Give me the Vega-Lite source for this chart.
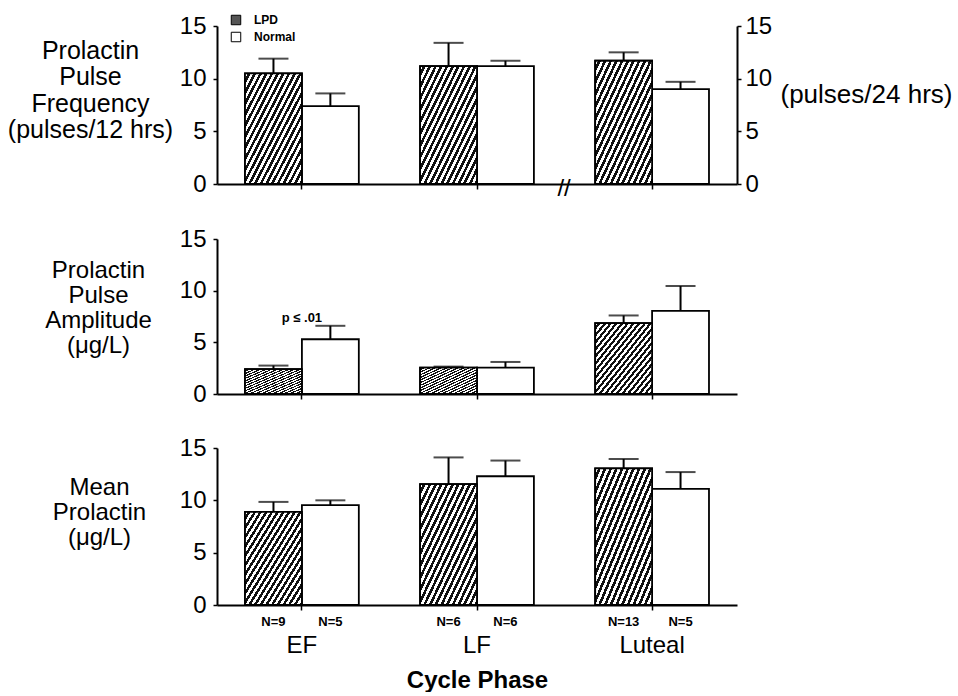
{
  "$schema": "https://vega.github.io/schema/vega-lite/v6.json",
  "padding": {"left": 7, "top": 14, "right": 5, "bottom": 0},
  "background": "white",
  "config": {
    "font": "Liberation Sans",
    "view": {"stroke": null},
    "concat": {"spacing": 26},
    "axis": {"domainColor": "black", "domainWidth": 2, "tickColor": "black", "tickWidth": 1.5, "labelColor": "black", "titleColor": "black", "grid": false, "labelFont": "Liberation Sans", "titleFont": "Liberation Sans"},
    "axisY": {"labelFontSize": 24, "tickSize": 4, "labelPadding": 7, "titleAngle": 0, "titleAlign": "center", "titleBaseline": "top", "titleFontSize": 24, "titleFontWeight": "normal", "titleLineHeight": 26.5},
    "axisX": {"tickSize": 5, "labelAngle": 0, "ticks": true}
  },
  "resolve": {"legend": {"fill": "independent"}, "scale": {"fill": "independent"}},
  "datasets": {
    "bars": [
      {"panel": "freq", "phase": "EF", "group": "LPD", "mean": 10.5, "upper": 11.9, "n": ""},
      {"panel": "freq", "phase": "EF", "group": "Normal", "mean": 7.4, "upper": 8.6, "n": ""},
      {"panel": "freq", "phase": "LF", "group": "LPD", "mean": 11.2, "upper": 13.4, "n": ""},
      {"panel": "freq", "phase": "LF", "group": "Normal", "mean": 11.2, "upper": 11.7, "n": ""},
      {"panel": "freq", "phase": "Luteal", "group": "LPD", "mean": 11.7, "upper": 12.5, "n": ""},
      {"panel": "freq", "phase": "Luteal", "group": "Normal", "mean": 9.0, "upper": 9.7, "n": ""},
      {"panel": "amp", "phase": "EF", "group": "LPD", "mean": 2.4, "upper": 2.75, "n": ""},
      {"panel": "amp", "phase": "EF", "group": "Normal", "mean": 5.3, "upper": 6.6, "n": ""},
      {"panel": "amp", "phase": "LF", "group": "LPD", "mean": 2.55, "upper": 2.65, "n": ""},
      {"panel": "amp", "phase": "LF", "group": "Normal", "mean": 2.55, "upper": 3.1, "n": ""},
      {"panel": "amp", "phase": "Luteal", "group": "LPD", "mean": 6.85, "upper": 7.6, "n": ""},
      {"panel": "amp", "phase": "Luteal", "group": "Normal", "mean": 8.05, "upper": 10.45, "n": ""},
      {"panel": "mean", "phase": "EF", "group": "LPD", "mean": 8.9, "upper": 9.85, "n": "N=9"},
      {"panel": "mean", "phase": "EF", "group": "Normal", "mean": 9.55, "upper": 10.0, "n": "N=5"},
      {"panel": "mean", "phase": "LF", "group": "LPD", "mean": 11.55, "upper": 14.1, "n": "N=6"},
      {"panel": "mean", "phase": "LF", "group": "Normal", "mean": 12.3, "upper": 13.8, "n": "N=6"},
      {"panel": "mean", "phase": "Luteal", "group": "LPD", "mean": 13.05, "upper": 13.95, "n": "N=13"},
      {"panel": "mean", "phase": "Luteal", "group": "Normal", "mean": 11.1, "upper": 12.7, "n": "N=5"}
    ],
    "notes": [
      {"panel": "freq", "phase": "Luteal", "y": 0, "label": "//"},
      {"panel": "amp", "phase": "EF", "y": 7.4, "label": "p ≤ .01"}
    ]
  },
  "vconcat": [
    {
      "width": 520, "height": 158,
      "data": {"name": "bars"},
      "encoding": {
        "x": {"field": "phase", "type": "nominal", "sort": ["EF", "LF", "Luteal"], "scale": {"paddingInner": 0.35, "paddingOuter": 0.16}, "axis": {"title": null, "labels": false, "ticks": true}}
      },
      "layer": [
        {
          "transform": [{"filter": "datum.panel === 'freq'"}],
          "mark": {"type": "bar", "stroke": "black", "strokeWidth": 1.8},
          "encoding": {
            "xOffset": {"field": "group", "type": "nominal", "sort": ["LPD", "Normal"], "scale": {"paddingInner": 0, "paddingOuter": 0}},
            "y": {"field": "mean", "type": "quantitative", "scale": {"domain": [0, 15], "nice": false}, "axis": {"values": [0, 5, 10, 15], "title": ["Prolactin", "Pulse", "Frequency", "(pulses/12 hrs)"], "titleFontSize": 25, "titleX": -127, "titleY": 12}},
            "fill": {"field": "group", "type": "nominal", "scale": {"domain": ["LPD", "Normal"], "range": ["#555555", "white"]},
              "legend": {"orient": "none", "legendX": 13, "legendY": -12, "title": null, "symbolType": "square", "symbolSize": 90, "symbolStrokeColor": "black", "symbolStrokeWidth": 1, "symbolOpacity": 1, "labelFontSize": 12, "labelFontWeight": "bold", "labelColor": "black", "rowPadding": 3, "labelOffset": 12,
                "encode": {"symbols": {"update": {
                  "stroke": {"value": "black"},
                  "strokeWidth": {"value": 1},
                  "fill": [
                  {"test": "datum.value === 'LPD'", "value": {"gradient": "linear", "x1": 0, "y1": 0, "x2": 1, "y2": 1, "stops": [
                    {"offset":0,"color":"#fff"},{"offset":0.125,"color":"#fff"},{"offset":0.125,"color":"#111"},{"offset":0.25,"color":"#111"},
                    {"offset":0.25,"color":"#fff"},{"offset":0.375,"color":"#fff"},{"offset":0.375,"color":"#111"},{"offset":0.5,"color":"#111"},
                    {"offset":0.5,"color":"#fff"},{"offset":0.625,"color":"#fff"},{"offset":0.625,"color":"#111"},{"offset":0.75,"color":"#111"},
                    {"offset":0.75,"color":"#fff"},{"offset":0.875,"color":"#fff"},{"offset":0.875,"color":"#111"},{"offset":1,"color":"#111"}
                  ]}},
                  {"value": "white"}
                ]}}}}}
          }
        },
        {
          "transform": [{"filter": "datum.panel === 'freq' && datum.group === 'LPD'"}],
          "mark": {"type": "bar", "stroke": "black", "strokeWidth": 1.8, "fill": {"gradient": "linear", "x1": 0, "y1": 0, "x2": 1, "y2": 1, "stops": [
                {"offset":0,"color":"#fff"},{"offset":0.025,"color":"#fff"},{"offset":0.025,"color":"#111"},{"offset":0.05,"color":"#111"},
                {"offset":0.05,"color":"#fff"},{"offset":0.075,"color":"#fff"},{"offset":0.075,"color":"#111"},{"offset":0.1,"color":"#111"},
                {"offset":0.1,"color":"#fff"},{"offset":0.125,"color":"#fff"},{"offset":0.125,"color":"#111"},{"offset":0.15,"color":"#111"},
                {"offset":0.15,"color":"#fff"},{"offset":0.175,"color":"#fff"},{"offset":0.175,"color":"#111"},{"offset":0.2,"color":"#111"},
                {"offset":0.2,"color":"#fff"},{"offset":0.225,"color":"#fff"},{"offset":0.225,"color":"#111"},{"offset":0.25,"color":"#111"},
                {"offset":0.25,"color":"#fff"},{"offset":0.275,"color":"#fff"},{"offset":0.275,"color":"#111"},{"offset":0.3,"color":"#111"},
                {"offset":0.3,"color":"#fff"},{"offset":0.325,"color":"#fff"},{"offset":0.325,"color":"#111"},{"offset":0.35,"color":"#111"},
                {"offset":0.35,"color":"#fff"},{"offset":0.375,"color":"#fff"},{"offset":0.375,"color":"#111"},{"offset":0.4,"color":"#111"},
                {"offset":0.4,"color":"#fff"},{"offset":0.425,"color":"#fff"},{"offset":0.425,"color":"#111"},{"offset":0.45,"color":"#111"},
                {"offset":0.45,"color":"#fff"},{"offset":0.475,"color":"#fff"},{"offset":0.475,"color":"#111"},{"offset":0.5,"color":"#111"},
                {"offset":0.5,"color":"#fff"},{"offset":0.525,"color":"#fff"},{"offset":0.525,"color":"#111"},{"offset":0.55,"color":"#111"},
                {"offset":0.55,"color":"#fff"},{"offset":0.575,"color":"#fff"},{"offset":0.575,"color":"#111"},{"offset":0.6,"color":"#111"},
                {"offset":0.6,"color":"#fff"},{"offset":0.625,"color":"#fff"},{"offset":0.625,"color":"#111"},{"offset":0.65,"color":"#111"},
                {"offset":0.65,"color":"#fff"},{"offset":0.675,"color":"#fff"},{"offset":0.675,"color":"#111"},{"offset":0.7,"color":"#111"},
                {"offset":0.7,"color":"#fff"},{"offset":0.725,"color":"#fff"},{"offset":0.725,"color":"#111"},{"offset":0.75,"color":"#111"},
                {"offset":0.75,"color":"#fff"},{"offset":0.775,"color":"#fff"},{"offset":0.775,"color":"#111"},{"offset":0.8,"color":"#111"},
                {"offset":0.8,"color":"#fff"},{"offset":0.825,"color":"#fff"},{"offset":0.825,"color":"#111"},{"offset":0.85,"color":"#111"},
                {"offset":0.85,"color":"#fff"},{"offset":0.875,"color":"#fff"},{"offset":0.875,"color":"#111"},{"offset":0.9,"color":"#111"},
                {"offset":0.9,"color":"#fff"},{"offset":0.925,"color":"#fff"},{"offset":0.925,"color":"#111"},{"offset":0.95,"color":"#111"},
                {"offset":0.95,"color":"#fff"},{"offset":0.975,"color":"#fff"},{"offset":0.975,"color":"#111"},{"offset":1,"color":"#111"}
              ]}},
          "encoding": {
            "xOffset": {"field": "group", "type": "nominal", "sort": ["LPD", "Normal"]},
            "y": {"field": "mean", "type": "quantitative", "axis": null}
          }
        },
        {
          "transform": [{"filter": "datum.panel === 'freq'"}],
          "mark": {"type": "rule", "color": "black", "strokeWidth": 2},
          "encoding": {
            "xOffset": {"field": "group", "type": "nominal", "sort": ["LPD", "Normal"]},
            "y": {"field": "mean", "type": "quantitative", "axis": {"orient": "right", "values": [0, 5, 10, 15], "labelPadding": 4, "title": "(pulses/24 hrs)", "titleAlign": "left", "titleBaseline": "middle", "titleX": 43, "titleY": 68, "titleFontSize": 26}},
            "y2": {"field": "upper"}
          }
        },
        {
          "transform": [{"filter": "datum.panel === 'freq'"}],
          "mark": {"type": "tick", "color": "black", "thickness": 2, "size": 30},
          "encoding": {
            "xOffset": {"field": "group", "type": "nominal", "sort": ["LPD", "Normal"]},
            "y": {"field": "upper", "type": "quantitative", "axis": null}
          }
        },
        {
          "data": {"name": "notes"},
          "transform": [{"filter": "datum.panel === 'freq'"}],
          "mark": {"type": "text", "fontSize": 24, "dx": -88, "dy": 5, "baseline": "middle", "color": "black"},
          "encoding": {
            "y": {"field": "y", "type": "quantitative", "axis": null},
            "text": {"field": "label"}
          }
        }
      ],
      "resolve": {"axis": {"y": "independent"}}
    },
    {
      "width": 520, "height": 155,
      "data": {"name": "bars"},
      "encoding": {
        "x": {"field": "phase", "type": "nominal", "sort": ["EF", "LF", "Luteal"], "scale": {"paddingInner": 0.35, "paddingOuter": 0.16}, "axis": {"title": " ", "titleFontSize": 8, "titlePadding": 2, "labels": false, "ticks": true}}
      },
      "layer": [
        {
          "transform": [{"filter": "datum.panel === 'amp'"}],
          "mark": {"type": "bar", "stroke": "black", "strokeWidth": 1.8},
          "encoding": {
            "xOffset": {"field": "group", "type": "nominal", "sort": ["LPD", "Normal"], "scale": {"paddingInner": 0, "paddingOuter": 0}},
            "y": {"field": "mean", "type": "quantitative", "scale": {"domain": [0, 15], "nice": false}, "axis": {"values": [0, 5, 10, 15], "title": ["Prolactin", "Pulse", "Amplitude", "(μg/L)"], "titleX": -119, "titleY": 19, "titleLineHeight": 25}},
            "fill": {"field": "group", "type": "nominal", "legend": null, "scale": {"domain": ["LPD", "Normal"], "range": ["#555555", "white"]}}
          }
        },
        {
          "transform": [{"filter": "datum.panel === 'amp' && datum.group === 'LPD'"}],
          "mark": {"type": "bar", "stroke": "black", "strokeWidth": 1.8, "fill": {"gradient": "linear", "x1": 0, "y1": 0, "x2": 1, "y2": 1, "stops": [
                {"offset":0,"color":"#fff"},{"offset":0.025,"color":"#fff"},{"offset":0.025,"color":"#111"},{"offset":0.05,"color":"#111"},
                {"offset":0.05,"color":"#fff"},{"offset":0.075,"color":"#fff"},{"offset":0.075,"color":"#111"},{"offset":0.1,"color":"#111"},
                {"offset":0.1,"color":"#fff"},{"offset":0.125,"color":"#fff"},{"offset":0.125,"color":"#111"},{"offset":0.15,"color":"#111"},
                {"offset":0.15,"color":"#fff"},{"offset":0.175,"color":"#fff"},{"offset":0.175,"color":"#111"},{"offset":0.2,"color":"#111"},
                {"offset":0.2,"color":"#fff"},{"offset":0.225,"color":"#fff"},{"offset":0.225,"color":"#111"},{"offset":0.25,"color":"#111"},
                {"offset":0.25,"color":"#fff"},{"offset":0.275,"color":"#fff"},{"offset":0.275,"color":"#111"},{"offset":0.3,"color":"#111"},
                {"offset":0.3,"color":"#fff"},{"offset":0.325,"color":"#fff"},{"offset":0.325,"color":"#111"},{"offset":0.35,"color":"#111"},
                {"offset":0.35,"color":"#fff"},{"offset":0.375,"color":"#fff"},{"offset":0.375,"color":"#111"},{"offset":0.4,"color":"#111"},
                {"offset":0.4,"color":"#fff"},{"offset":0.425,"color":"#fff"},{"offset":0.425,"color":"#111"},{"offset":0.45,"color":"#111"},
                {"offset":0.45,"color":"#fff"},{"offset":0.475,"color":"#fff"},{"offset":0.475,"color":"#111"},{"offset":0.5,"color":"#111"},
                {"offset":0.5,"color":"#fff"},{"offset":0.525,"color":"#fff"},{"offset":0.525,"color":"#111"},{"offset":0.55,"color":"#111"},
                {"offset":0.55,"color":"#fff"},{"offset":0.575,"color":"#fff"},{"offset":0.575,"color":"#111"},{"offset":0.6,"color":"#111"},
                {"offset":0.6,"color":"#fff"},{"offset":0.625,"color":"#fff"},{"offset":0.625,"color":"#111"},{"offset":0.65,"color":"#111"},
                {"offset":0.65,"color":"#fff"},{"offset":0.675,"color":"#fff"},{"offset":0.675,"color":"#111"},{"offset":0.7,"color":"#111"},
                {"offset":0.7,"color":"#fff"},{"offset":0.725,"color":"#fff"},{"offset":0.725,"color":"#111"},{"offset":0.75,"color":"#111"},
                {"offset":0.75,"color":"#fff"},{"offset":0.775,"color":"#fff"},{"offset":0.775,"color":"#111"},{"offset":0.8,"color":"#111"},
                {"offset":0.8,"color":"#fff"},{"offset":0.825,"color":"#fff"},{"offset":0.825,"color":"#111"},{"offset":0.85,"color":"#111"},
                {"offset":0.85,"color":"#fff"},{"offset":0.875,"color":"#fff"},{"offset":0.875,"color":"#111"},{"offset":0.9,"color":"#111"},
                {"offset":0.9,"color":"#fff"},{"offset":0.925,"color":"#fff"},{"offset":0.925,"color":"#111"},{"offset":0.95,"color":"#111"},
                {"offset":0.95,"color":"#fff"},{"offset":0.975,"color":"#fff"},{"offset":0.975,"color":"#111"},{"offset":1,"color":"#111"}
              ]}},
          "encoding": {
            "xOffset": {"field": "group", "type": "nominal", "sort": ["LPD", "Normal"]},
            "y": {"field": "mean", "type": "quantitative", "axis": null}
          }
        },
        {
          "transform": [{"filter": "datum.panel === 'amp'"}],
          "mark": {"type": "rule", "color": "black", "strokeWidth": 2},
          "encoding": {
            "xOffset": {"field": "group", "type": "nominal", "sort": ["LPD", "Normal"]},
            "y": {"field": "mean", "type": "quantitative", "axis": null},
            "y2": {"field": "upper"}
          }
        },
        {
          "transform": [{"filter": "datum.panel === 'amp'"}],
          "mark": {"type": "tick", "color": "black", "thickness": 2, "size": 30},
          "encoding": {
            "xOffset": {"field": "group", "type": "nominal", "sort": ["LPD", "Normal"]},
            "y": {"field": "upper", "type": "quantitative", "axis": null}
          }
        },
        {
          "data": {"name": "notes"},
          "transform": [{"filter": "datum.panel === 'amp'"}],
          "mark": {"type": "text", "fontSize": 13, "fontWeight": "bold", "baseline": "middle", "color": "black"},
          "encoding": {
            "y": {"field": "y", "type": "quantitative", "axis": null},
            "text": {"field": "label"}
          }
        }
      ],
      "resolve": {"axis": {"y": "independent"}}
    },
    {
      "width": 520, "height": 157,
      "data": {"name": "bars"},
      "encoding": {
        "x": {"field": "phase", "type": "nominal", "sort": ["EF", "LF", "Luteal"], "scale": {"paddingInner": 0.35, "paddingOuter": 0.16}, "axis": {"title": "Cycle Phase", "ticks": true, "labelFontSize": 24, "labelPadding": 23, "titleFontSize": 24, "titleFontWeight": "bold", "titlePadding": 11}}
      },
      "layer": [
        {
          "transform": [{"filter": "datum.panel === 'mean'"}],
          "mark": {"type": "bar", "stroke": "black", "strokeWidth": 1.8},
          "encoding": {
            "xOffset": {"field": "group", "type": "nominal", "sort": ["LPD", "Normal"], "scale": {"paddingInner": 0, "paddingOuter": 0}},
            "y": {"field": "mean", "type": "quantitative", "scale": {"domain": [0, 15], "nice": false}, "axis": {"values": [0, 5, 10, 15], "title": ["Mean", "Prolactin", "(μg/L)"], "titleX": -118, "titleY": 27, "titleLineHeight": 25}},
            "fill": {"field": "group", "type": "nominal", "legend": null, "scale": {"domain": ["LPD", "Normal"], "range": ["#555555", "white"]}}
          }
        },
        {
          "transform": [{"filter": "datum.panel === 'mean' && datum.group === 'LPD'"}],
          "mark": {"type": "bar", "stroke": "black", "strokeWidth": 1.8, "fill": {"gradient": "linear", "x1": 0, "y1": 0, "x2": 1, "y2": 1, "stops": [
                {"offset":0,"color":"#fff"},{"offset":0.025,"color":"#fff"},{"offset":0.025,"color":"#111"},{"offset":0.05,"color":"#111"},
                {"offset":0.05,"color":"#fff"},{"offset":0.075,"color":"#fff"},{"offset":0.075,"color":"#111"},{"offset":0.1,"color":"#111"},
                {"offset":0.1,"color":"#fff"},{"offset":0.125,"color":"#fff"},{"offset":0.125,"color":"#111"},{"offset":0.15,"color":"#111"},
                {"offset":0.15,"color":"#fff"},{"offset":0.175,"color":"#fff"},{"offset":0.175,"color":"#111"},{"offset":0.2,"color":"#111"},
                {"offset":0.2,"color":"#fff"},{"offset":0.225,"color":"#fff"},{"offset":0.225,"color":"#111"},{"offset":0.25,"color":"#111"},
                {"offset":0.25,"color":"#fff"},{"offset":0.275,"color":"#fff"},{"offset":0.275,"color":"#111"},{"offset":0.3,"color":"#111"},
                {"offset":0.3,"color":"#fff"},{"offset":0.325,"color":"#fff"},{"offset":0.325,"color":"#111"},{"offset":0.35,"color":"#111"},
                {"offset":0.35,"color":"#fff"},{"offset":0.375,"color":"#fff"},{"offset":0.375,"color":"#111"},{"offset":0.4,"color":"#111"},
                {"offset":0.4,"color":"#fff"},{"offset":0.425,"color":"#fff"},{"offset":0.425,"color":"#111"},{"offset":0.45,"color":"#111"},
                {"offset":0.45,"color":"#fff"},{"offset":0.475,"color":"#fff"},{"offset":0.475,"color":"#111"},{"offset":0.5,"color":"#111"},
                {"offset":0.5,"color":"#fff"},{"offset":0.525,"color":"#fff"},{"offset":0.525,"color":"#111"},{"offset":0.55,"color":"#111"},
                {"offset":0.55,"color":"#fff"},{"offset":0.575,"color":"#fff"},{"offset":0.575,"color":"#111"},{"offset":0.6,"color":"#111"},
                {"offset":0.6,"color":"#fff"},{"offset":0.625,"color":"#fff"},{"offset":0.625,"color":"#111"},{"offset":0.65,"color":"#111"},
                {"offset":0.65,"color":"#fff"},{"offset":0.675,"color":"#fff"},{"offset":0.675,"color":"#111"},{"offset":0.7,"color":"#111"},
                {"offset":0.7,"color":"#fff"},{"offset":0.725,"color":"#fff"},{"offset":0.725,"color":"#111"},{"offset":0.75,"color":"#111"},
                {"offset":0.75,"color":"#fff"},{"offset":0.775,"color":"#fff"},{"offset":0.775,"color":"#111"},{"offset":0.8,"color":"#111"},
                {"offset":0.8,"color":"#fff"},{"offset":0.825,"color":"#fff"},{"offset":0.825,"color":"#111"},{"offset":0.85,"color":"#111"},
                {"offset":0.85,"color":"#fff"},{"offset":0.875,"color":"#fff"},{"offset":0.875,"color":"#111"},{"offset":0.9,"color":"#111"},
                {"offset":0.9,"color":"#fff"},{"offset":0.925,"color":"#fff"},{"offset":0.925,"color":"#111"},{"offset":0.95,"color":"#111"},
                {"offset":0.95,"color":"#fff"},{"offset":0.975,"color":"#fff"},{"offset":0.975,"color":"#111"},{"offset":1,"color":"#111"}
              ]}},
          "encoding": {
            "xOffset": {"field": "group", "type": "nominal", "sort": ["LPD", "Normal"]},
            "y": {"field": "mean", "type": "quantitative", "axis": null}
          }
        },
        {
          "transform": [{"filter": "datum.panel === 'mean'"}],
          "mark": {"type": "rule", "color": "black", "strokeWidth": 2},
          "encoding": {
            "xOffset": {"field": "group", "type": "nominal", "sort": ["LPD", "Normal"]},
            "y": {"field": "mean", "type": "quantitative", "axis": null},
            "y2": {"field": "upper"}
          }
        },
        {
          "transform": [{"filter": "datum.panel === 'mean'"}],
          "mark": {"type": "tick", "color": "black", "thickness": 2, "size": 30},
          "encoding": {
            "xOffset": {"field": "group", "type": "nominal", "sort": ["LPD", "Normal"]},
            "y": {"field": "upper", "type": "quantitative", "axis": null}
          }
        },
        {
          "transform": [{"filter": "datum.panel === 'mean'"}],
          "mark": {"type": "text", "fontSize": 13, "fontWeight": "bold", "baseline": "middle", "dy": 17, "color": "black"},
          "encoding": {
            "xOffset": {"field": "group", "type": "nominal", "sort": ["LPD", "Normal"]},
            "y": {"datum": 0, "type": "quantitative", "axis": null},
            "text": {"field": "n"}
          }
        }
      ],
      "resolve": {"axis": {"y": "independent"}}
    }
  ]
}
